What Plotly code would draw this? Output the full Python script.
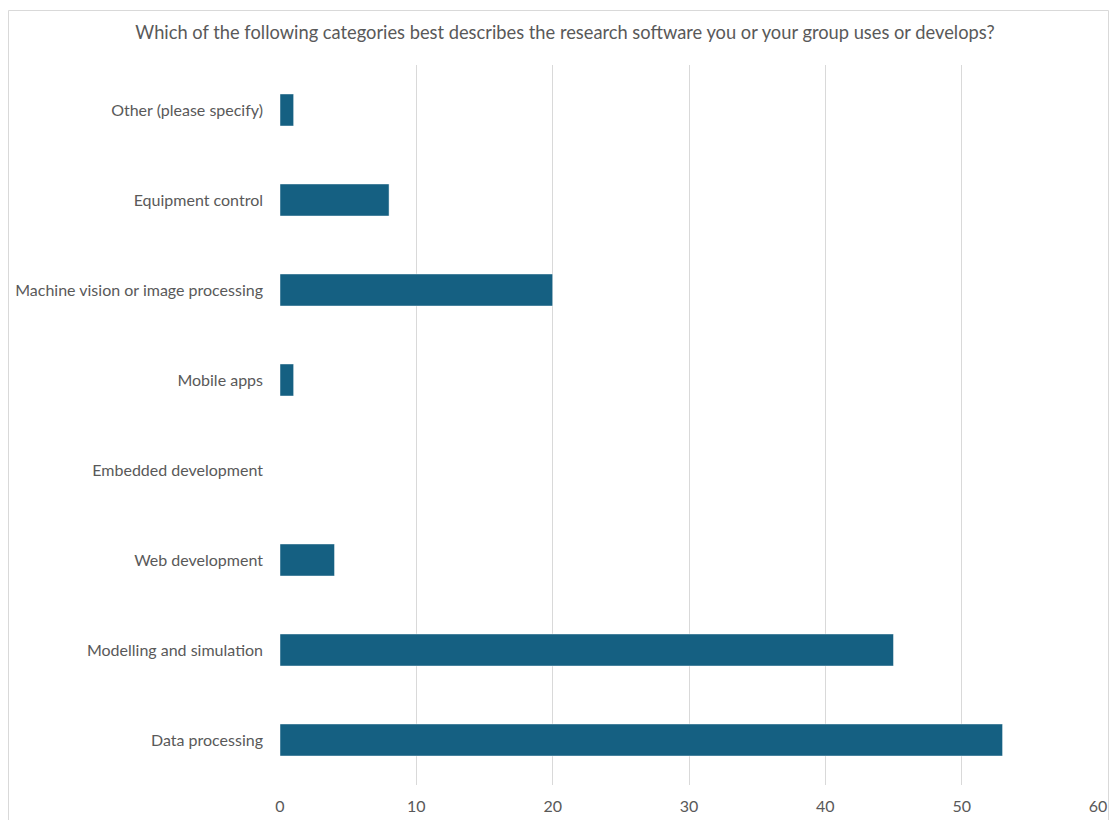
import plotly.graph_objects as go

# Survey responses per software category (bottom to top as drawn)
categories = [
    "Data processing",
    "Modelling and simulation",
    "Web development",
    "Embedded development",
    "Mobile apps",
    "Machine vision or image processing",
    "Equipment control",
    "Other (please specify)",
]
responses = [53, 45, 4, 0, 1, 20, 8, 1]
x_ticks = [0, 10, 20, 30, 40, 50, 60]

title_text = ("Which of the following categories best describes the research "
              "software you or your group uses or develops?")

W, H = 1109, 820
L, R, T, B = 280, 11, 65, 35
pw, ph = W - L - R, H - T - B

fig = go.Figure(
    go.Bar(
        x=responses,
        y=categories,
        orientation="h",
        marker=dict(color="#156082", line=dict(color="rgba(255,255,255,0.45)", width=1)),
        hoverinfo="x+y",
    )
)

FONT = "Lato, Open Sans, sans-serif"

fig.update_layout(
    width=W,
    height=H,
    margin=dict(l=L, r=R, t=T, b=B, autoexpand=False),
    paper_bgcolor="white",
    plot_bgcolor="white",
    bargap=0.644,
    showlegend=False,
    font=dict(family=FONT, color="#595959", size=16),
    title=dict(
        text=title_text,
        x=565 / W,
        xanchor="center",
        y=1 - 33 / H,
        yanchor="middle",
        font=dict(size=18.3, color="#595959", family=FONT),
    ),
    xaxis=dict(
        range=[0, 60],
        tickvals=x_ticks,
        showgrid=True,
        gridcolor="#d9d9d9",
        gridwidth=1,
        zeroline=False,
        showline=False,
        ticks="",
        automargin=False,
        ticklabelstandoff=10,
        tickfont=dict(size=16, color="#595959"),
    ),
    yaxis=dict(
        categoryorder="array",
        categoryarray=categories,
        showgrid=False,
        zeroline=False,
        showline=False,
        ticks="",
        automargin=False,
        ticklabelstandoff=16,
        tickfont=dict(size=16, color="#595959"),
    ),
    shapes=[
        dict(
            type="rect",
            xref="paper",
            yref="paper",
            x0=(8.5 - L) / pw,
            x1=(W - 0.5 - L) / pw,
            y0=(H - B - (H + 20)) / ph,
            y1=(H - B - 10.5) / ph,
            line=dict(color="#d9d9d9", width=1),
            fillcolor="rgba(0,0,0,0)",
            layer="below",
        )
    ],
)

fig.write_html("out.html")
